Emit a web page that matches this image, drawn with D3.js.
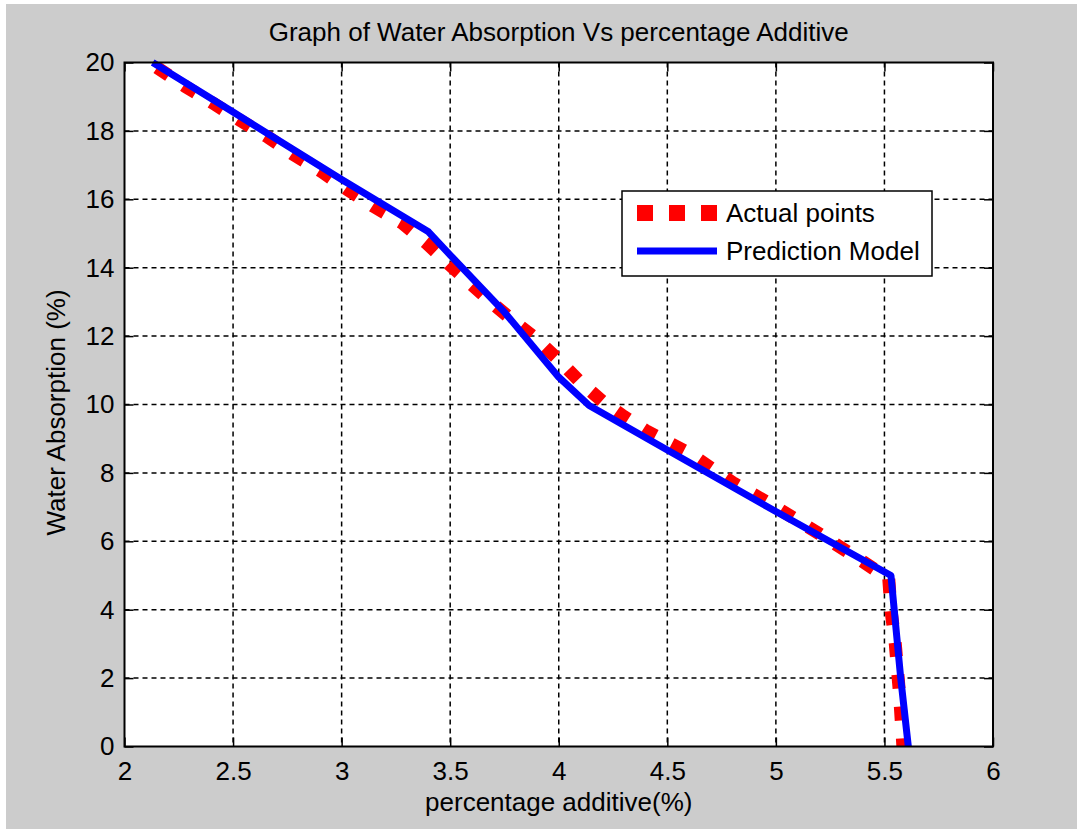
<!DOCTYPE html>
<html>
<head>
<meta charset="utf-8">
<script src="https://cdn.jsdelivr.net/npm/d3@7"></script>
<style>
  html, body { margin: 0; padding: 0; background: #ffffff; }
  svg { display: block; }
  text { font-family: "Liberation Sans", Arial, sans-serif; fill: #000; }
</style>
</head>
<body>
<svg id="chart" width="1077" height="829"></svg>
<script>
// ---- data ----
const titleText = "Graph of Water Absorption Vs percentage Additive";
const xLabel = "percentage additive(%)";
const yLabel = "Water Absorption (%)";
const xTicks = [2, 2.5, 3, 3.5, 4, 4.5, 5, 5.5, 6];
const yTicks = [0, 2, 4, 6, 8, 10, 12, 14, 16, 18, 20];
const seriesNames = ["Actual points", "Prediction Model"];

// Actual points (red dashed)
const actualX = [2.15, 2.28, 2.41, 2.53, 2.66, 2.78, 2.91, 3.03, 3.15, 3.28, 3.39, 3.5, 3.6, 3.7, 3.8, 3.9, 4.0, 4.1, 4.2, 4.3, 4.4, 4.6, 4.8, 5.0, 5.2, 5.4, 5.52, 5.53, 5.55, 5.57, 5.585];
const actualY = [19.85, 19.3, 18.8, 18.32, 17.82, 17.3, 16.8, 16.27, 15.78, 15.3, 14.72, 14.07, 13.5, 12.93, 12.4, 11.9, 11.3, 10.65, 10.1, 9.65, 9.24, 8.58, 7.72, 7.0, 6.22, 5.41, 4.9, 4.0, 3.0, 1.5, 0];

// Prediction Model (blue solid)
const predX = [2.13, 2.5, 3.0, 3.4, 3.5, 3.75, 4.0, 4.14, 4.5, 5.0, 5.53, 5.545, 5.575, 5.61];
const predY = [20, 18.55, 16.58, 15.05, 14.37, 12.7, 10.8, 9.97, 8.67, 6.87, 5.0, 4.0, 2.0, 0];

// ---- layout ----
const W = 1077, H = 829;
const plot = { left: 124.5, right: 993, top: 62.5, bottom: 746.5 };
const svg = d3.select("#chart");

svg.append("rect").attr("x", 6).attr("y", 4).attr("width", W - 6).attr("height", H - 4).attr("fill", "#cccccc");

const x = d3.scaleLinear().domain([2, 6]).range([plot.left, plot.right]);
const y = d3.scaleLinear().domain([0, 20]).range([plot.bottom, plot.top]);

svg.append("rect").attr("x", plot.left).attr("y", plot.top)
  .attr("width", plot.right - plot.left).attr("height", plot.bottom - plot.top)
  .attr("fill", "#ffffff");

// grid
const grid = svg.append("g").attr("stroke", "#000").attr("stroke-width", 1.5).attr("stroke-dasharray", "5,4");
grid.selectAll("line.gx").data(xTicks.slice(1, -1)).join("line")
  .attr("x1", d => x(d)).attr("x2", d => x(d)).attr("y1", plot.top).attr("y2", plot.bottom);
grid.selectAll("line.gy").data(yTicks.slice(1, -1)).join("line")
  .attr("y1", d => y(d)).attr("y2", d => y(d)).attr("x1", plot.left).attr("x2", plot.right);

// axes with inward ticks
const tickLen = 9;
const fmt = d => String(d);
const axB = svg.append("g").attr("transform", `translate(0,${plot.bottom})`)
  .call(d3.axisBottom(x).tickValues(xTicks).tickFormat(fmt).tickSizeInner(-tickLen).tickSizeOuter(0).tickPadding(15));
const axT = svg.append("g").attr("transform", `translate(0,${plot.top})`)
  .call(d3.axisTop(x).tickValues(xTicks).tickFormat("").tickSizeInner(-tickLen).tickSizeOuter(0));
const axL = svg.append("g").attr("transform", `translate(${plot.left},0)`)
  .call(d3.axisLeft(y).tickValues(yTicks).tickFormat(fmt).tickSizeInner(-tickLen).tickSizeOuter(0).tickPadding(10));
const axR = svg.append("g").attr("transform", `translate(${plot.right},0)`)
  .call(d3.axisRight(y).tickValues(yTicks).tickFormat("").tickSizeInner(-tickLen).tickSizeOuter(0));
[axB, axT, axL, axR].forEach(a => {
  a.select(".domain").remove();
  a.selectAll(".tick line").attr("stroke", "#000").attr("stroke-width", 1.5);
  a.selectAll(".tick text").attr("font-size", 26).attr("font-family", "Liberation Sans, Arial, sans-serif").attr("fill", "#000");
});
axB.selectAll(".tick text").attr("dy", "0.71em");

// clip
svg.append("clipPath").attr("id", "clip").append("rect")
  .attr("x", plot.left).attr("y", plot.top - 8).attr("width", plot.right - plot.left).attr("height", plot.bottom - plot.top + 8);

const line = d3.line().x(d => x(d[0])).y(d => y(d[1]));
const actual = actualX.map((v, i) => [v, actualY[i]]);
const pred = predX.map((v, i) => [v, predY[i]]);

const lines = svg.append("g").attr("clip-path", "url(#clip)");
lines.append("path").datum(actual).attr("d", line)
  .attr("fill", "none").attr("stroke", "#ff0000").attr("stroke-width", 13)
  .attr("stroke-dasharray", "14,18").attr("stroke-linejoin", "miter");
lines.append("path").datum(pred).attr("d", line)
  .attr("fill", "none").attr("stroke", "#0000ff").attr("stroke-width", 7)
  .attr("stroke-linejoin", "round");

// frame
svg.append("rect").attr("x", plot.left).attr("y", plot.top)
  .attr("width", plot.right - plot.left).attr("height", plot.bottom - plot.top)
  .attr("fill", "none").attr("stroke", "#000").attr("stroke-width", 2);

// title and axis labels
svg.append("text").attr("x", (plot.left + plot.right) / 2).attr("y", 41)
  .attr("text-anchor", "middle").attr("font-size", 26).text(titleText);
svg.append("text").attr("x", (plot.left + plot.right) / 2).attr("y", 811)
  .attr("text-anchor", "middle").attr("font-size", 26).text(xLabel);
svg.append("text").attr("transform", `translate(65,${(plot.top + plot.bottom) / 2 + 8}) rotate(-90)`)
  .attr("text-anchor", "middle").attr("font-size", 26).text(yLabel);

// legend
const lg = svg.append("g");
lg.append("rect").attr("x", 622).attr("y", 191).attr("width", 310).attr("height", 85)
  .attr("fill", "#fff").attr("stroke", "#000").attr("stroke-width", 1.5);
const legendRows = [
  { name: seriesNames[0], color: "#ff0000", width: 16, dash: "16,16", cy: 213 },
  { name: seriesNames[1], color: "#0000ff", width: 7, dash: null, cy: 251 }
];
legendRows.forEach(r => {
  const l = lg.append("line").attr("x1", 637).attr("x2", 717).attr("y1", r.cy).attr("y2", r.cy)
    .attr("stroke", r.color).attr("stroke-width", r.width);
  if (r.dash) l.attr("stroke-dasharray", r.dash);
  lg.append("text").attr("x", 726).attr("y", r.cy + 9).attr("font-size", 26).text(r.name);
});
</script>
</body>
</html>
